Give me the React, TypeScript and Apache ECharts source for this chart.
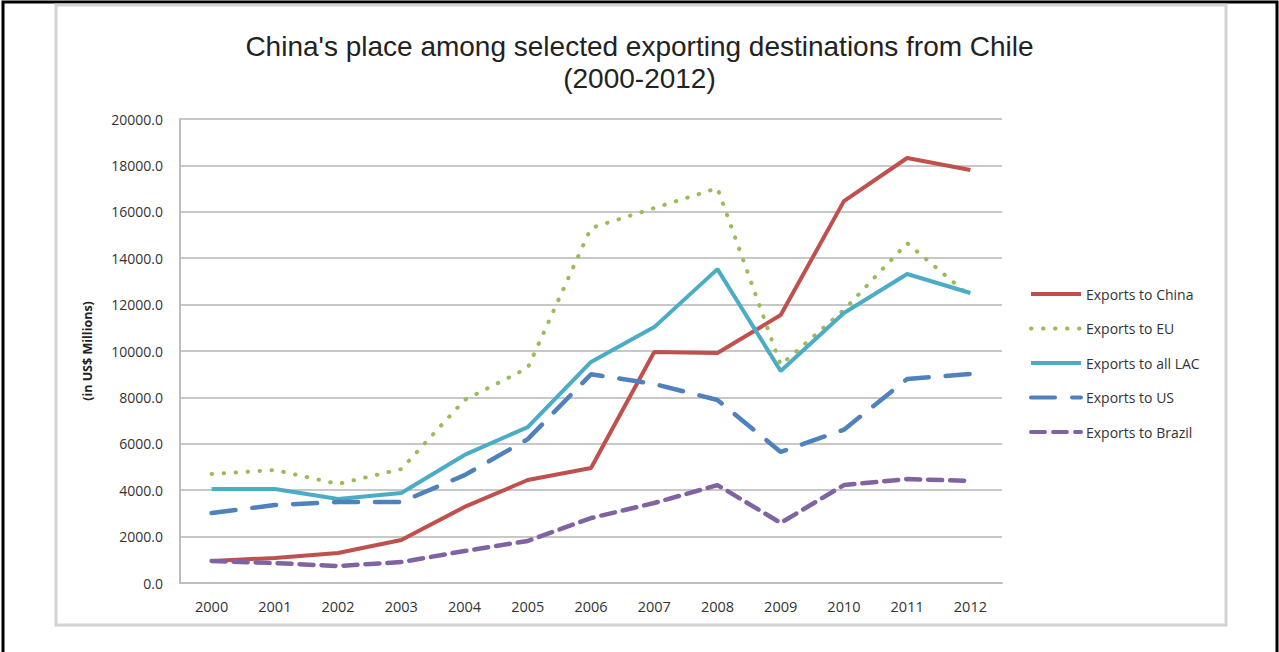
import React, { useEffect, useRef } from "react";
import * as echarts from "echarts";

const years = ["2000", "2001", "2002", "2003", "2004", "2005", "2006", "2007", "2008", "2009", "2010", "2011", "2012"];
const china = [950, 1080, 1290, 1850, 3280, 4440, 4960, 9960, 9910, 11550, 16460, 18320, 17800];
const eu = [4700, 4870, 4270, 4910, 7890, 9270, 15300, 16160, 17020, 9400, 11770, 14650, 12350];
const lac = [4050, 4050, 3620, 3880, 5520, 6720, 9530, 11030, 13530, 9140, 11640, 13320, 12500];
const us = [3020, 3360, 3490, 3490, 4650, 6200, 9000, 8580, 7890, 5650, 6610, 8790, 9010];
const brazil = [950, 860, 730, 900, 1380, 1810, 2800, 3450, 4220, 2590, 4220, 4480, 4400];

const seriesNames = ["Exports to China", "Exports to EU", "Exports to all LAC", "Exports to US", "Exports to Brazil"];
const titleLines = ["China's place among selected exporting destinations from Chile", "(2000-2012)"];

export default function App() {
  const ref = useRef<HTMLDivElement>(null);
  useEffect(() => {
    if (!ref.current) return;
    const chart = echarts.init(ref.current, undefined, { renderer: "svg" });
    const font = "'Open Sans', 'Noto Sans', sans-serif";
    const titleStyle = { fontFamily: "'Liberation Sans', Arial, sans-serif", fontSize: 28, fontWeight: "normal", color: "#222", lineHeight: 32 };
    chart.setOption({
      animation: false,
      textStyle: { fontFamily: font },
      title: [
        { text: titleLines[0], left: "center", top: 25, textStyle: titleStyle },
        { text: titleLines[1], left: "center", top: 57, textStyle: titleStyle },
      ],
      graphic: [
        { type: "rect", shape: { x: 3, y: 2, width: 1274, height: 720 }, style: { fill: "none", stroke: "#000", lineWidth: 3 }, silent: true },
        { type: "rect", shape: { x: 56, y: 5, width: 1170, height: 620 }, style: { fill: "none", stroke: "#d2d2d2", lineWidth: 3 }, silent: true },
      ],
      legend: {
        orient: "vertical",
        left: 1024,
        top: 282,
        itemWidth: 50,
        itemHeight: 16,
        itemGap: 20.5,
        data: seriesNames,
        itemStyle: { opacity: 0, borderWidth: 0 },
        lineStyle: { width: 4 },
        textStyle: { fontFamily: font, fontSize: 14, color: "#333" },
      },
      grid: { left: 180, right: 277, top: 119, bottom: 69 },
      xAxis: {
        type: "category",
        data: years,
        boundaryGap: true,
        axisTick: { show: false },
        axisLine: { lineStyle: { color: "#bdbdbd", width: 2 } },
        axisLabel: { margin: 16, fontSize: 14.5, color: "#333", fontFamily: font },
      },
      yAxis: {
        type: "value",
        min: 0,
        max: 20000,
        interval: 2000,
        name: "(in US$ Millions)",
        nameLocation: "middle",
        nameRotate: 90,
        nameGap: 86,
        nameTextStyle: { fontFamily: font, fontSize: 12.5, fontWeight: "bold", color: "#222" },
        axisLine: { show: true, lineStyle: { color: "#bdbdbd", width: 2 } },
        axisTick: { show: false },
        splitLine: { lineStyle: { color: "#c8c8c8", width: 2 } },
        axisLabel: { margin: 17, fontSize: 14, color: "#333", fontFamily: font, formatter: (v: number) => v.toFixed(1) },
      },
      series: [
        { name: seriesNames[0], type: "line", data: china, symbol: "none", color: "#c0504d", lineStyle: { width: 4, color: "#c0504d" } },
        { name: seriesNames[1], type: "line", data: eu, symbol: "none", color: "#9bbb59", lineStyle: { width: 4, color: "#9bbb59", type: [0.5, 11.5], cap: "round" } },
        { name: seriesNames[2], type: "line", data: lac, symbol: "none", color: "#4bacc6", lineStyle: { width: 4, color: "#4bacc6" } },
        { name: seriesNames[3], type: "line", data: us, symbol: "none", color: "#4f81bd", lineStyle: { width: 4.5, color: "#4f81bd", type: [24, 17], cap: "round" } },
        { name: seriesNames[4], type: "line", data: brazil, symbol: "none", color: "#8064a2", lineStyle: { width: 4.5, color: "#8064a2", type: [14, 8], cap: "round" } },
      ],
    });
    return () => chart.dispose();
  }, []);
  return <div ref={ref} style={{ position: "fixed", left: 0, top: 0, width: 1279, height: 652, background: "#fff" }} />;
}
